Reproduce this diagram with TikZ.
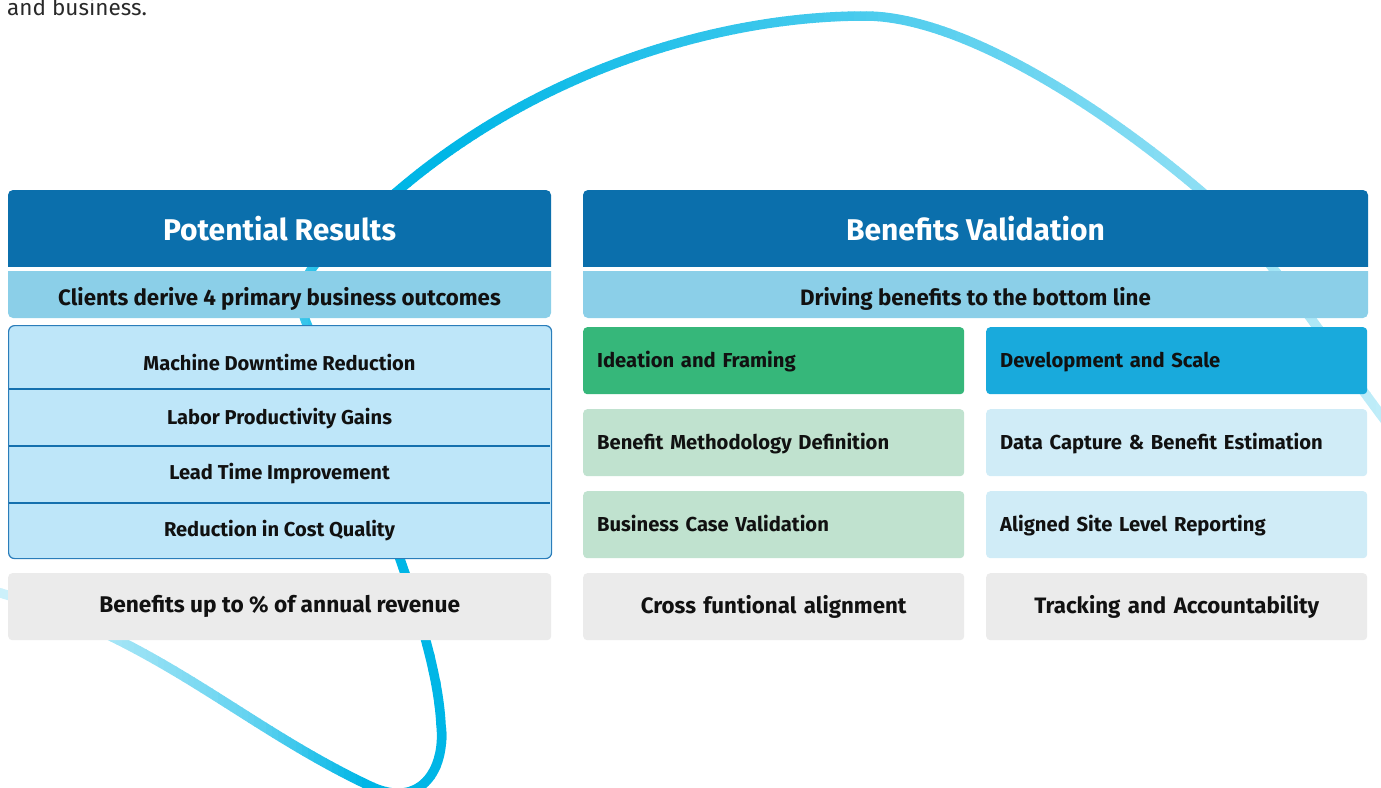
\documentclass[tikz,border=0pt]{standalone}
\usepackage{fontspec}
\setmainfont{Fira Sans}
\definecolor{hdrblue}{HTML}{0B6FAC}
\definecolor{subblue}{HTML}{8BCFE8}
\definecolor{listfill}{HTML}{BEE6F9}
\definecolor{listedge}{HTML}{2A7DBA}
\definecolor{sepblue}{HTML}{1570AE}
\definecolor{graybox}{HTML}{EBEBEB}
\definecolor{tilegreen}{HTML}{36B77A}
\definecolor{tileblue}{HTML}{19AADC}
\definecolor{palegreen}{HTML}{C0E2CF}
\definecolor{paleblue}{HTML}{D0ECF7}
\definecolor{ink}{HTML}{111111}
\definecolor{swooshcol}{RGB}{0,182,230}
\begin{document}
\begin{tikzpicture}[x=1pt,y=-1pt,
  hdrtxt/.style={text=white, font=\fontsize{30}{36}\selectfont\bfseries},
  subtxt/.style={text=ink, font=\fontsize{22.3}{26}\selectfont\bfseries},
  itemtxt/.style={text=ink, font=\fontsize{20.1}{24}\selectfont\bfseries},
  tile/.style={rounded corners=4pt, minimum width=381pt, minimum height=67pt,
    inner xsep=14pt, text width=353pt, anchor=north west, text=ink,
    text height=16pt, text depth=3pt,
    font=\fontsize{20.2}{24}\selectfont\bfseries},
  tileleft/.style={tile, align=left},
  tilecenter/.style={tile, align=center, font=\fontsize{22.3}{26}\selectfont\bfseries},
  swooshline/.style={line width=9.5pt, line cap=round}]
\useasboundingbox (0,0) rectangle (1381,787);

% background swoosh, coloured strip by strip along x
\def\swoosh{(-40,582) .. controls (150,628) and (230,720) .. (370,786)
  .. controls (420,810) and (446,770) .. (441,725)
  .. controls (437,640) and (380,500) .. (306,322)
  .. controls (285,270) and (340,240) .. (399,190)
  .. controls (540,70) and (720,16) .. (865,16)
  .. controls (960,16) and (1100,105) .. (1202,192)
  .. controls (1270,250) and (1330,350) .. (1400,440)}
\foreach \xs in {-40,-34,...,1400} {
  \pgfmathtruncatemacro\p{(\xs<0) ? 20 : ((\xs<120) ? 20+\xs/120*18 :
    ((\xs<250) ? 38+(\xs-120)/130*24 : ((\xs<360) ? 62+(\xs-250)/110*38 :
    ((\xs<450) ? 100 : ((\xs<850) ? 100-(\xs-450)/400*28 :
    ((\xs<1200) ? 72-(\xs-850)/350*27 : 45-(\xs-1200)/181*20))))))}
  \begin{scope}
    \clip (\xs,-20) rectangle (\xs+6.5,830);
    \draw[swooshline, draw=swooshcol!\p!white] \swoosh;
  \end{scope}
}

% lead-in text
\node[anchor=base west, inner sep=0pt, text=ink!90,
  font=\fontsize{22.5}{27}\selectfont] (leadin) at (7,15) {and business.};

% ---- Potential Results panel ----
\begin{scope}
  \clip (8,190) rectangle (551,266);
  \fill[hdrblue, rounded corners=5pt] (8,190) rectangle (551,300);
\end{scope}
\begin{scope}
  \clip (8,271) rectangle (551,318);
  \fill[subblue, rounded corners=5pt] (8,240) rectangle (551,318);
\end{scope}
\node[hdrtxt] (prtitle) at (279.5,229) {Potential Results};
\node[subtxt] (prsub) at (279.5,298.5) {Clients derive 4 primary business outcomes};

\node[draw=listedge, line width=1.2pt, fill=listfill, rounded corners=6pt,
  minimum width=543pt, minimum height=233pt, anchor=north west] (list) at (8,325) {};
\foreach \yy in {389,446,503}
  \draw[sepblue, line width=2.6pt] (8.6,\yy) -- (550.4,\yy);
\node[itemtxt] (machine) at (279.5,362.5) {Machine Downtime Reduction};
\node[itemtxt] (labor) at (279.5,418.5) {Labor Productivity Gains};
\node[itemtxt] (leadtime) at (279.5,474) {Lead Time Improvement};
\node[itemtxt] (quality) at (279.5,530.5) {Reduction in Cost Quality};

\node[fill=graybox, rounded corners=4pt, minimum width=543pt, minimum height=67pt,
  anchor=north west, text=ink, font=\fontsize{22.7}{27}\selectfont\bfseries]
  (revenue) at (8,573) {Benefits up to \% of annual revenue};

% ---- Benefits Validation panel ----
\begin{scope}
  \clip (583,190) rectangle (1368,266);
  \fill[hdrblue, rounded corners=5pt] (583,190) rectangle (1368,300);
\end{scope}
\begin{scope}
  \clip (583,271) rectangle (1368,318);
  \fill[subblue, rounded corners=5pt] (583,240) rectangle (1368,318);
\end{scope}
\node[hdrtxt] (bvtitle) at (975.5,229) {Benefits Validation};
\node[subtxt] (bvsub) at (975.5,298.5) {Driving benefits to the bottom line};

\node[tileleft, fill=tilegreen] (ideation) at (583,327) {Ideation and Framing};
\node[tileleft, fill=tileblue] (develop) at (986,327) {Development and Scale};
\node[tileleft, fill=palegreen] (method) at (583,409) {Benefit Methodology Definition};
\node[tileleft, fill=paleblue] (capture) at (986,409) {Data Capture \& Benefit Estimation};
\node[tileleft, fill=palegreen] (bizcase) at (583,491) {Business Case Validation};
\node[tileleft, fill=paleblue] (report) at (986,491) {Aligned Site Level Reporting};
\node[tilecenter, fill=graybox] (cross) at (583,573) {Cross funtional alignment};
\node[tilecenter, fill=graybox] (track) at (986,573) {Tracking and Accountability};
\end{tikzpicture}
\end{document}
